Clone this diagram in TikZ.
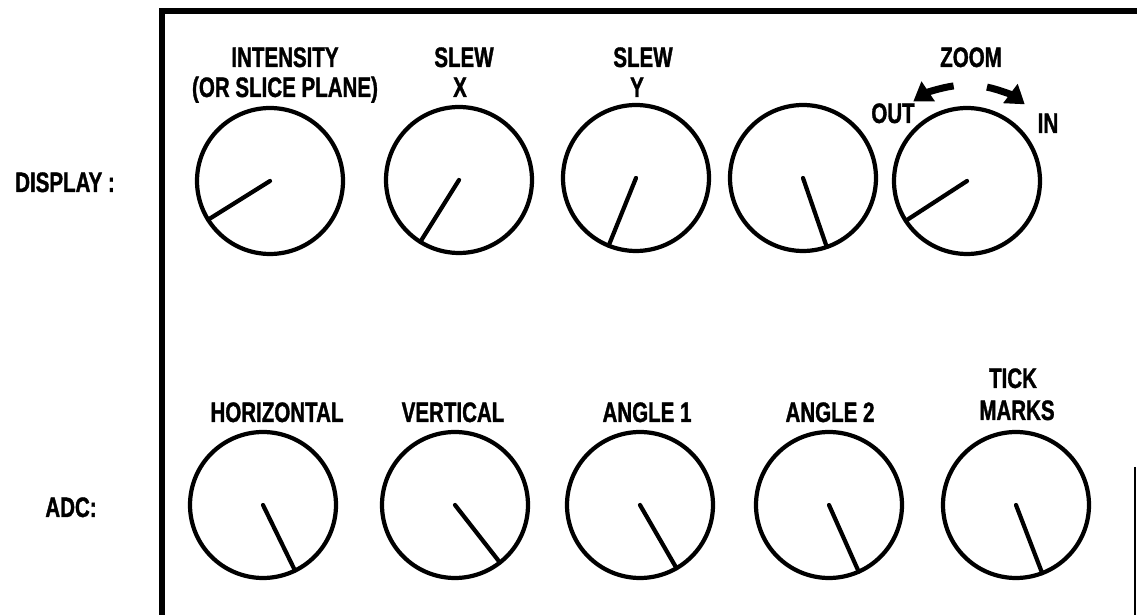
\documentclass[tikz,border=0pt]{standalone}
\usepackage{fontspec}
\newfontfamily\panelfont{Liberation Sans}[FakeStretch=0.73,BoldFeatures={FakeBold=1.2}]
\usetikzlibrary{arrows.meta}

\begin{document}
\begin{tikzpicture}[x=.02cm,y=.02cm,
  lbl/.style={font=\panelfont\bfseries\fontsize{16}{18}\selectfont,inner sep=0pt,anchor=base},
  dial/.style={circle,draw=black,line width=2.4pt,minimum size=2.92cm,inner sep=0pt,outer sep=0pt},
  needle/.style={line width=2.4pt,line cap=round},
  zoomarrow/.style={line width=4pt,-{Triangle[length=.36cm,width=.46cm]}}]
\useasboundingbox (0,0) rectangle (1137,615);
\draw[line width=3.5pt] (162,0) -- (162,604) -- (1137,604);
\draw[line width=1.2pt] (1135,148) -- (1135,0);
\node[lbl] (display) at (65,423) {DISPLAY :};
\node[lbl] (adc) at (71,98) {ADC:};
\node[dial] (intensity) at (270,434) {};
\draw[needle] (intensity.center) -- (intensity.212);
\node[lbl] (intensitytop) at (285,548) {INTENSITY};
\node[lbl] (intensitybot) at (285,518) {(OR SLICE PLANE)};
\node[dial] (slewx) at (459,435) {};
\draw[needle] (slewx.center) -- (slewx.238);
\node[lbl] (slewxtop) at (464,548) {SLEW};
\node[lbl] (slewxbot) at (460,518) {X};
\node[dial] (slewy) at (636,437) {};
\draw[needle] (slewy.center) -- (slewy.248);
\node[lbl] (slewytop) at (643,548) {SLEW};
\node[lbl] (slewybot) at (637,518) {Y};
\node[dial] (spare) at (803,437) {};
\draw[needle] (spare.center) -- (spare.289);
\node[dial] (zoom) at (967,434) {};
\draw[needle] (zoom.center) -- (zoom.213);
\node[lbl] (zoomtop) at (971,548) {ZOOM};
\node[lbl] (zoomout) at (893,492) {OUT};
\node[lbl] (zoomin) at (1048,482) {IN};
\draw[zoomarrow] ([shift={(98:96)}]zoom.center) arc[start angle=98,end angle=124,radius=96];
\draw[zoomarrow] ([shift={(78:96)}]zoom.center) arc[start angle=78,end angle=53,radius=96];
\node[dial] (horizontal) at (263,110) {};
\draw[needle] (horizontal.center) -- (horizontal.296);
\node[lbl] (horizontallbl) at (277,193) {HORIZONTAL};
\node[dial] (vertical) at (455,110) {};
\draw[needle] (vertical.center) -- (vertical.308);
\node[lbl] (verticallbl) at (453,193) {VERTICAL};
\node[dial] (angleone) at (640,110) {};
\draw[needle] (angleone.center) -- (angleone.300);
\node[lbl] (angleonelbl) at (647,193) {ANGLE 1};
\node[dial] (angletwo) at (829,110) {};
\draw[needle] (angletwo.center) -- (angletwo.294);
\node[lbl] (angletwolbl) at (830,193) {ANGLE 2};
\node[dial] (tick) at (1016,110) {};
\draw[needle] (tick.center) -- (tick.291);
\node[lbl] (ticktop) at (1013,227) {TICK};
\node[lbl] (tickbot) at (1017,195) {MARKS};
\end{tikzpicture}
\end{document}
